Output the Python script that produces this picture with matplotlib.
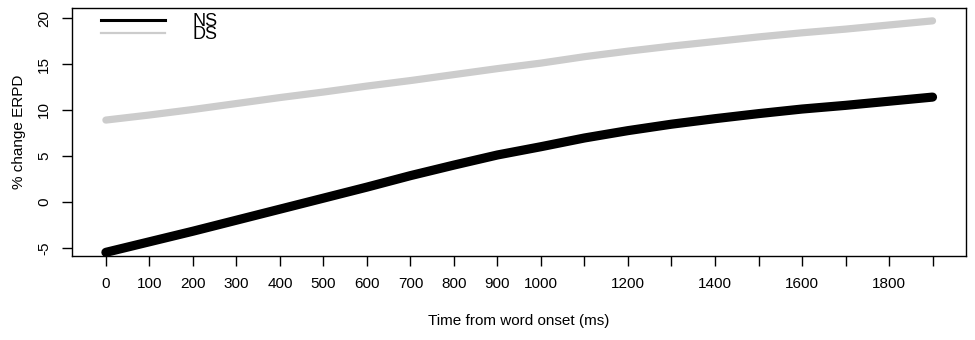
"""% change ERPD over time from word onset, NS vs DS."""

import matplotlib

matplotlib.use("Agg")
import matplotlib.pyplot as plt
from matplotlib.lines import Line2D

plt.rcParams["font.family"] = ["Liberation Sans", "DejaVu Sans"]

time_ms = list(range(0, 2000, 100))
ns_change = [-5.5, -4.35, -3.2, -2.0, -0.8, 0.4, 1.6, 2.85, 4.0, 5.1,
             6.0, 6.95, 7.75, 8.45, 9.05, 9.6, 10.1, 10.5, 10.95, 11.4]
ds_change = [8.9, 9.45, 10.05, 10.7, 11.35, 11.95, 12.6, 13.2, 13.85, 14.5,
             15.1, 15.8, 16.4, 16.95, 17.45, 17.95, 18.4, 18.8, 19.25, 19.7]

x_ticks = list(range(0, 2000, 100))
x_labelled = [0, 100, 200, 300, 400, 500, 600, 700, 800, 900, 1000, 1200, 1400, 1600, 1800]
y_ticks = [-5, 0, 5, 10, 15, 20]

fig = plt.figure(figsize=(9.75, 3.4), dpi=100)
ax = fig.add_axes([0.0738, 0.247, 0.917, 0.7295])

ax.plot(time_ms, ds_change, color="#cccccc", lw=5.2, solid_capstyle="round")
ax.plot(time_ms, ns_change, color="black", lw=6.6, solid_capstyle="round")

ax.set_xlim(-78, 1977)
ax.set_ylim(-5.9, 21.1)
ax.set_xticks(x_ticks)
ax.set_xticklabels([str(t) if t in x_labelled else "" for t in x_ticks], fontsize=11)
ax.set_yticks(y_ticks)
ax.set_yticklabels([str(v) for v in y_ticks], fontsize=11, rotation=90, va="center")
ax.tick_params(axis="both", length=7, width=1, pad=8)
for s in ax.spines.values():
    s.set_linewidth(1.0)

ax.set_xlabel("Time from word onset (ms)", fontsize=11, labelpad=17)
ax.set_ylabel("% change ERPD", fontsize=11, labelpad=8)

handles = [Line2D([], [], color="black", lw=2.2),
           Line2D([], [], color="#cccccc", lw=1.6)]
ax.legend(handles, ["NS", "DS"], loc="upper left", bbox_to_anchor=(0.033, 0.978),
          frameon=False, fontsize=13, handlelength=3.5, handletextpad=1.55,
          labelspacing=-0.22, borderpad=0, borderaxespad=0)

fig.savefig("out.png", dpi=100)
plt.close(fig)
